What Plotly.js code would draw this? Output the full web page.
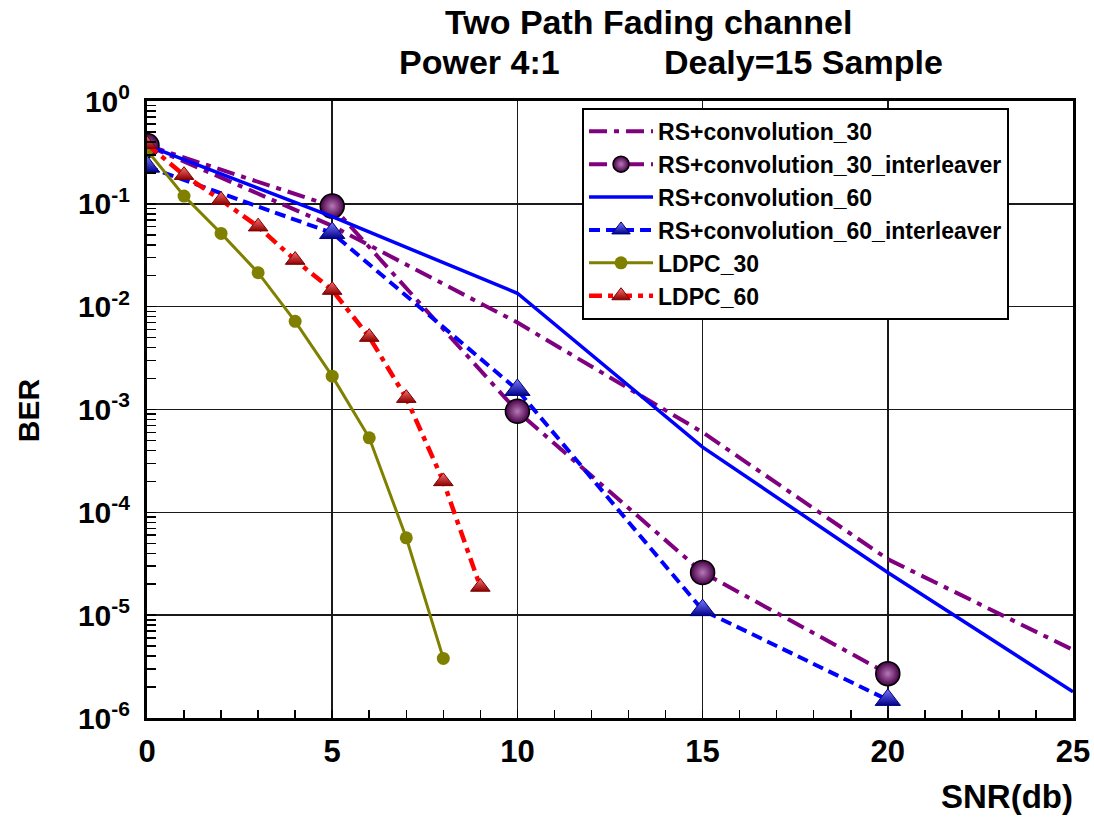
<!DOCTYPE html>
<html>
<head>
<meta charset="utf-8">
<script src="https://cdn.plot.ly/plotly-3.0.1.min.js"></script>
<style>html,body{margin:0;padding:0;background:#fff;}#chart{width:1094px;height:823px;}</style>
</head>
<body>
<div id="chart"></div>
<script>
// ---- data ----
var snrRS = [0, 5, 10, 15, 20, 25];
var snrInter = [0, 5, 10, 15, 20];
var snrLdpc30 = [0, 1, 2, 3, 4, 5, 6, 7, 8];
var snrLdpc60 = [0, 1, 2, 3, 4, 5, 6, 7, 8, 9];

var berRS30 = [0.37, 0.061, 0.0070, 6.0e-4, 3.5e-5, 4.6e-6];
var berRS30Inter = [0.37, 0.095, 9.6e-4, 2.6e-5, 2.7e-6];
var berRS60 = [0.37, 0.075, 0.0135, 4.3e-4, 2.6e-5, 1.8e-6];
var berRS60Inter = [0.23, 0.052, 1.55e-3, 1.12e-5, 1.5e-6];
var berLdpc30 = [0.333, 0.119, 0.0516, 0.0214, 0.0072, 0.00211, 0.00053, 5.65e-5, 3.8e-6];
var berLdpc60 = [0.38, 0.19, 0.109, 0.060, 0.0284, 0.0145, 0.00506, 0.00129, 0.0002, 1.88e-5];

var seriesNames = ['RS+convolution_30', 'RS+convolution_30_interleaver', 'RS+convolution_60',
                   'RS+convolution_60_interleaver', 'LDPC_30', 'LDPC_60'];

var decadeExps = [0, -1, -2, -3, -4, -5, -6];
var yTickText = ['10<sup>0</sup>', '10<sup>-1</sup>', '10<sup>-2</sup>', '10<sup>-3</sup>',
                 '10<sup>-4</sup>', '10<sup>-5</sup>', '10<sup>-6</sup>'];
var xTickVals = [0, 5, 10, 15, 20, 25];

var titleLine1 = 'Two Path Fading channel';
var titleLine2a = 'Power 4:1';
var titleLine2b = 'Dealy=15 Sample';
var xTitle = 'SNR(db)';
var yTitle = 'BER';

// ---- build ----
var yTickVals = decadeExps.map(function (e) { return Math.pow(10, e); });
var yMinor = [];
for (var e = -6; e < 0; e++) {
  for (var d = 2; d <= 9; d++) yMinor.push(d * Math.pow(10, e));
}

var FONT = 'Liberation Sans, Arial, sans-serif';
var RS_DASHDOT = '18px,7px,5px,7px';

var traces = [
  {
    x: snrRS, y: berRS30, name: seriesNames[0], mode: 'lines',
    line: {color: '#800080', width: 4, dash: RS_DASHDOT}
  },
  {
    x: snrInter, y: berRS30Inter, name: seriesNames[1], mode: 'lines+markers',
    line: {color: '#800080', width: 4, dash: RS_DASHDOT},
    marker: {symbol: 'circle', size: 24, color: '#460046',
             gradient: {type: 'radial', color: '#b878b8'},
             line: {color: '#000000', width: 1.5}}
  },
  {
    x: snrRS, y: berRS60, name: seriesNames[2], mode: 'lines',
    line: {color: '#0000ff', width: 3.5}
  },
  {
    x: snrInter, y: berRS60Inter, name: seriesNames[3], mode: 'lines+markers',
    line: {color: '#0000ff', width: 4, dash: '11px,6px'},
    marker: {symbol: 'triangle-up', size: 22, color: '#7a7aff',
             gradient: {type: 'vertical', color: '#00008b'},
             line: {color: '#00007a', width: 1}}
  },
  {
    x: snrLdpc30, y: berLdpc30, name: seriesNames[4], mode: 'lines+markers',
    line: {color: '#808000', width: 3},
    marker: {symbol: 'circle', size: 13, color: '#808000'}
  },
  {
    x: snrLdpc60, y: berLdpc60, name: seriesNames[5], mode: 'lines+markers',
    line: {color: '#ff0000', width: 4.5, dash: '13px,6px,5px,6px'},
    marker: {symbol: 'triangle-up', size: 17, color: '#ff7070',
             gradient: {type: 'vertical', color: '#8b0000'},
             line: {color: '#7a0000', width: 1}}
  }
];

var layout = {
  width: 1094, height: 823,
  margin: {l: 147, r: 21, t: 101, b: 105, pad: 0},
  paper_bgcolor: '#ffffff', plot_bgcolor: '#ffffff',
  font: {family: FONT, color: '#000000'},
  showlegend: true,
  legend: {
    x: 0.4698, y: 0.989, xanchor: 'left', yanchor: 'top',
    bgcolor: '#ffffff', bordercolor: '#000000', borderwidth: 2,
    font: {family: FONT, size: 23, weight: 'bold', color: '#000000'},
    itemwidth: 64, tracegroupgap: 0
  },
  xaxis: {
    type: 'linear', range: [0, 25], tickmode: 'array', tickvals: xTickVals,
    showgrid: true, gridcolor: '#1a1a1a', gridwidth: 1.5,
    showline: true, linecolor: '#000000', linewidth: 3, mirror: true,
    ticks: 'inside', ticklen: 8, tickwidth: 1.5, tickcolor: '#000000',
    ticklabelstandoff: 4,
    minor: {dtick: 1, ticks: 'inside', ticklen: 8, tickwidth: 1.5, tickcolor: '#000000', showgrid: false},
    tickfont: {family: FONT, size: 31, weight: 'bold', color: '#000000'},
    zeroline: false
  },
  yaxis: {
    type: 'log', range: [-6, 0], tickmode: 'array', tickvals: yTickVals, ticktext: yTickText,
    showgrid: true, gridcolor: '#1a1a1a', gridwidth: 1.5,
    showline: true, linecolor: '#000000', linewidth: 3, mirror: true,
    ticks: 'inside', ticklen: 9, tickwidth: 1.5, tickcolor: '#000000',
    ticklabelstandoff: 8,
    minor: {tickmode: 'array', tickvals: yMinor, ticks: 'inside', ticklen: 9, tickwidth: 1.5, tickcolor: '#000000', showgrid: false},
    tickfont: {family: FONT, size: 30, weight: 'bold', color: '#000000'},
    zeroline: false
  },
  annotations: [
    {text: titleLine1, xref: 'paper', yref: 'paper', x: (443 - 147) / 926, y: 1.128, xanchor: 'left', yanchor: 'middle',
     showarrow: false, font: {family: FONT, size: 34, weight: 'bold', color: '#000000'}},
    {text: titleLine2a, xref: 'paper', yref: 'paper', x: (397 - 147) / 926, y: 1.063, xanchor: 'left', yanchor: 'middle',
     showarrow: false, font: {family: FONT, size: 34, weight: 'bold', color: '#000000'}},
    {text: titleLine2b, xref: 'paper', yref: 'paper', x: (662 - 147) / 926, y: 1.063, xanchor: 'left', yanchor: 'middle',
     showarrow: false, font: {family: FONT, size: 34, weight: 'bold', color: '#000000'}},
    {text: xTitle, xref: 'paper', yref: 'paper', x: 1.002, y: -0.128, xanchor: 'right', yanchor: 'middle',
     showarrow: false, font: {family: FONT, size: 33, weight: 'bold', color: '#000000'}},
    {text: yTitle, xref: 'paper', yref: 'paper', x: -0.1285, y: 0.499, xanchor: 'center', yanchor: 'middle',
     textangle: -90, showarrow: false, font: {family: FONT, size: 30, weight: 'bold', color: '#000000'}}
  ]
};

Plotly.newPlot('chart', traces, layout, {displayModeBar: false, staticPlot: true});
</script>
</body>
</html>
